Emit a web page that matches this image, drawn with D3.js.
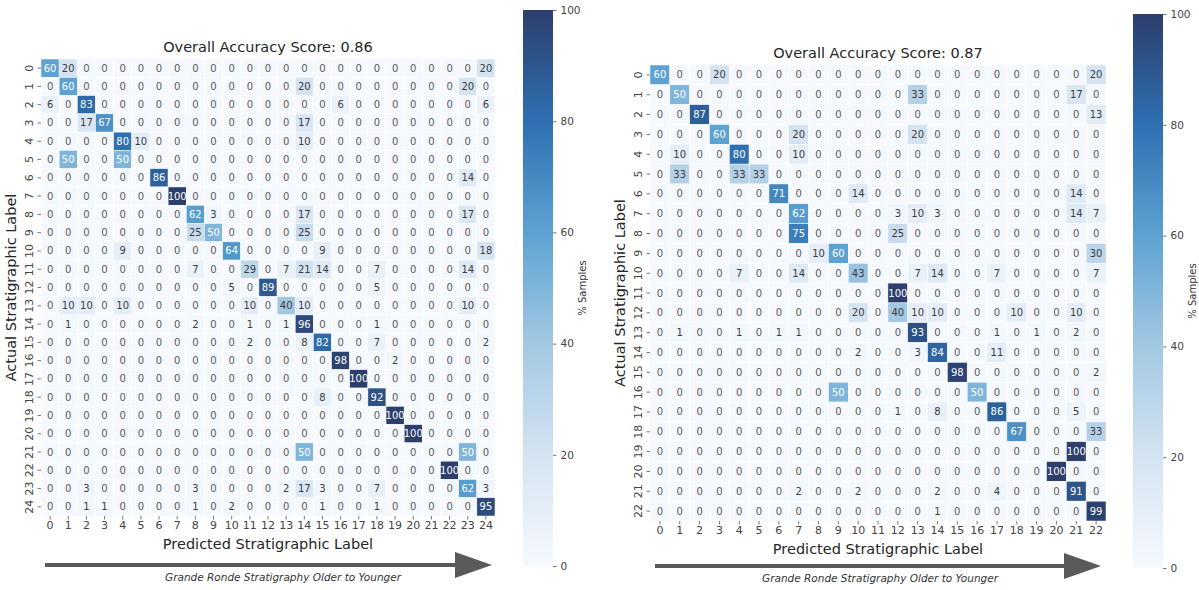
<!DOCTYPE html>
<html>
<head>
<meta charset="utf-8">
<script src="https://cdn.jsdelivr.net/npm/d3@7"></script>
<style>
  html, body { margin: 0; padding: 0; background: #ffffff; }
  svg { display: block; font-family: "DejaVu Sans", sans-serif; }
</style>
</head>
<body>
<svg id="chart" width="1199" height="590"></svg>
<script>
// Class labels (stratigraphic units) for each model
const leftClasses = [0,1,2,3,4,5,6,7,8,9,10,11,12,13,14,15,16,17,18,19,20,21,22,23,24];
const rightClasses = [0,1,2,3,4,5,6,7,8,9,10,11,12,13,14,15,16,17,18,19,20,21,22];

// Row = actual label, column = predicted label, values in % of samples
const leftMatrix = [
  [60,20,0,0,0,0,0,0,0,0,0,0,0,0,0,0,0,0,0,0,0,0,0,0,20],
  [0,60,0,0,0,0,0,0,0,0,0,0,0,0,20,0,0,0,0,0,0,0,0,20,0],
  [6,0,83,0,0,0,0,0,0,0,0,0,0,0,0,0,6,0,0,0,0,0,0,0,6],
  [0,0,17,67,0,0,0,0,0,0,0,0,0,0,17,0,0,0,0,0,0,0,0,0,0],
  [0,0,0,0,80,10,0,0,0,0,0,0,0,0,10,0,0,0,0,0,0,0,0,0,0],
  [0,50,0,0,50,0,0,0,0,0,0,0,0,0,0,0,0,0,0,0,0,0,0,0,0],
  [0,0,0,0,0,0,86,0,0,0,0,0,0,0,0,0,0,0,0,0,0,0,0,14,0],
  [0,0,0,0,0,0,0,100,0,0,0,0,0,0,0,0,0,0,0,0,0,0,0,0,0],
  [0,0,0,0,0,0,0,0,62,3,0,0,0,0,17,0,0,0,0,0,0,0,0,17,0],
  [0,0,0,0,0,0,0,0,25,50,0,0,0,0,25,0,0,0,0,0,0,0,0,0,0],
  [0,0,0,0,9,0,0,0,0,0,64,0,0,0,0,9,0,0,0,0,0,0,0,0,18],
  [0,0,0,0,0,0,0,0,7,0,0,29,0,7,21,14,0,0,7,0,0,0,0,14,0],
  [0,0,0,0,0,0,0,0,0,0,5,0,89,0,0,0,0,0,5,0,0,0,0,0,0],
  [0,10,10,0,10,0,0,0,0,0,0,10,0,40,10,0,0,0,0,0,0,0,0,10,0],
  [0,1,0,0,0,0,0,0,2,0,0,1,0,1,96,0,0,0,1,0,0,0,0,0,0],
  [0,0,0,0,0,0,0,0,0,0,0,2,0,0,8,82,0,0,7,0,0,0,0,0,2],
  [0,0,0,0,0,0,0,0,0,0,0,0,0,0,0,0,98,0,0,2,0,0,0,0,0],
  [0,0,0,0,0,0,0,0,0,0,0,0,0,0,0,0,0,100,0,0,0,0,0,0,0],
  [0,0,0,0,0,0,0,0,0,0,0,0,0,0,0,8,0,0,92,0,0,0,0,0,0],
  [0,0,0,0,0,0,0,0,0,0,0,0,0,0,0,0,0,0,0,100,0,0,0,0,0],
  [0,0,0,0,0,0,0,0,0,0,0,0,0,0,0,0,0,0,0,0,100,0,0,0,0],
  [0,0,0,0,0,0,0,0,0,0,0,0,0,0,50,0,0,0,0,0,0,0,0,50,0],
  [0,0,0,0,0,0,0,0,0,0,0,0,0,0,0,0,0,0,0,0,0,0,100,0,0],
  [0,0,3,0,0,0,0,0,3,0,0,0,0,2,17,3,0,0,7,0,0,0,0,62,3],
  [0,0,1,1,0,0,0,0,1,0,2,0,0,0,0,1,0,0,1,0,0,0,0,0,95]
];

const rightMatrix = [
  [60,0,0,20,0,0,0,0,0,0,0,0,0,0,0,0,0,0,0,0,0,0,20],
  [0,50,0,0,0,0,0,0,0,0,0,0,0,33,0,0,0,0,0,0,0,17,0],
  [0,0,87,0,0,0,0,0,0,0,0,0,0,0,0,0,0,0,0,0,0,0,13],
  [0,0,0,60,0,0,0,20,0,0,0,0,0,20,0,0,0,0,0,0,0,0,0],
  [0,10,0,0,80,0,0,10,0,0,0,0,0,0,0,0,0,0,0,0,0,0,0],
  [0,33,0,0,33,33,0,0,0,0,0,0,0,0,0,0,0,0,0,0,0,0,0],
  [0,0,0,0,0,0,71,0,0,0,14,0,0,0,0,0,0,0,0,0,0,14,0],
  [0,0,0,0,0,0,0,62,0,0,0,0,3,10,3,0,0,0,0,0,0,14,7],
  [0,0,0,0,0,0,0,75,0,0,0,0,25,0,0,0,0,0,0,0,0,0,0],
  [0,0,0,0,0,0,0,0,10,60,0,0,0,0,0,0,0,0,0,0,0,0,30],
  [0,0,0,0,7,0,0,14,0,0,43,0,0,7,14,0,0,7,0,0,0,0,7],
  [0,0,0,0,0,0,0,0,0,0,0,0,100,0,0,0,0,0,0,0,0,0,0],
  [0,0,0,0,0,0,0,0,0,0,20,0,40,10,10,0,0,0,10,0,0,10,0],
  [0,1,0,0,1,0,1,1,0,0,0,0,0,93,0,0,0,1,0,1,0,2,0],
  [0,0,0,0,0,0,0,0,0,0,2,0,0,3,84,0,0,11,0,0,0,0,0],
  [0,0,0,0,0,0,0,0,0,0,0,0,0,0,0,98,0,0,0,0,0,0,2],
  [0,0,0,0,0,0,0,0,0,50,0,0,0,0,0,0,50,0,0,0,0,0,0],
  [0,0,0,0,0,0,0,0,0,0,0,0,1,0,8,0,0,86,0,0,0,5,0],
  [0,0,0,0,0,0,0,0,0,0,0,0,0,0,0,0,0,0,67,0,0,0,33],
  [0,0,0,0,0,0,0,0,0,0,0,0,0,0,0,0,0,0,0,0,0,100,0],
  [0,0,0,0,0,0,0,0,0,0,0,0,0,0,0,0,0,0,0,0,100,0,0],
  [0,0,0,0,0,0,0,2,0,0,2,0,0,0,2,0,0,4,0,0,0,91,0],
  [0,0,0,0,0,0,0,0,0,0,0,0,0,0,1,0,0,0,0,0,0,0,99]
];

const accuracyScores = [0.86, 0.87];
const colorbarTicks = [0, 20, 40, 60, 80, 100];

// Sequential blue colour map, 0 -> 100 %
const color = d3.scaleLinear()
  .domain([0, 20, 40, 60, 80, 100])
  .range(["#f5f9fd", "#d4e3f2", "#a2c8e2", "#5ca2d2", "#2e70b2", "#2c3e6c"])
  .interpolate(d3.interpolateRgb)
  .clamp(true);

const svg = d3.select("#chart");
const defs = svg.append("defs");

// One gradient shared by both colour bars (bottom = 0, top = 100)
const grad = defs.append("linearGradient")
  .attr("id", "cbarGrad")
  .attr("x1", 0).attr("y1", 1).attr("x2", 0).attr("y2", 0);
d3.range(0, 101, 5).forEach(v => {
  grad.append("stop").attr("offset", v / 100).attr("stop-color", color(v));
});

function drawPanel(opt) {
  const g = svg.append("g");
  const x = d3.scaleBand().domain(opt.classes).range([opt.x0, opt.x1]);
  const y = d3.scaleBand().domain(opt.classes).range([opt.y0, opt.y1]);

  const cells = [];
  opt.matrix.forEach((row, i) => row.forEach((v, j) => cells.push({ r: opt.classes[i], c: opt.classes[j], v })));

  // Heatmap cells
  g.append("g").selectAll("rect").data(cells).join("rect")
    .attr("x", d => x(d.c))
    .attr("y", d => y(d.r))
    .attr("width", x.bandwidth())
    .attr("height", y.bandwidth())
    .attr("fill", d => color(d.v))
    .attr("stroke", "#ffffff")
    .attr("stroke-width", 0.5);

  // Cell annotations
  g.append("g").selectAll("text").data(cells).join("text")
    .attr("x", d => x(d.c) + x.bandwidth() / 2)
    .attr("y", d => y(d.r) + y.bandwidth() / 2)
    .attr("text-anchor", "middle")
    .attr("dominant-baseline", "central")
    .attr("font-size", opt.cellFont)
    .attr("fill", d => d.v >= 45 ? "#ffffff" : (d.v === 0 ? "#5a5a5a" : "#3c3c3c"))
    .text(d => d.v);

  // Axes
  const xAxis = g.append("g")
    .attr("transform", `translate(0,${opt.y1})`)
    .call(d3.axisBottom(x).tickSize(3.5).tickPadding(2));
  const yAxis = g.append("g")
    .attr("transform", `translate(${opt.x0},0)`)
    .call(d3.axisLeft(y).tickSize(3.5).tickPadding(2));
  [xAxis, yAxis].forEach(a => {
    a.select(".domain").remove();
    a.selectAll(".tick line").attr("stroke", "#555").attr("stroke-width", 0.8);
    a.selectAll(".tick text").attr("fill", "#444").attr("font-size", 11)
      .attr("font-family", "DejaVu Sans, sans-serif");
  });
  yAxis.selectAll(".tick text")
    .attr("transform", "rotate(-90)")
    .attr("x", 0).attr("y", -8)
    .attr("dy", "0")
    .attr("text-anchor", "middle");

  const cx = (opt.x0 + opt.x1) / 2;
  const cy = (opt.y0 + opt.y1) / 2;

  // Title
  g.append("text")
    .attr("x", cx).attr("y", opt.y0 - 7)
    .attr("text-anchor", "middle")
    .attr("font-size", 14.5).attr("fill", "#262626")
    .text(`Overall Accuracy Score: ${opt.score.toFixed(2)}`);

  // Axis titles
  g.append("text")
    .attr("x", cx).attr("y", opt.y1 + 33)
    .attr("text-anchor", "middle")
    .attr("font-size", 14.5).attr("fill", "#262626")
    .text("Predicted Stratigraphic Label");
  g.append("text")
    .attr("transform", `translate(${opt.x0 - 25},${cy}) rotate(-90)`)
    .attr("text-anchor", "middle")
    .attr("font-size", 14.5).attr("fill", "#262626")
    .text("Actual Stratigraphic Label");

  // Stratigraphic order arrow
  const ay = opt.arrowY;
  g.append("line")
    .attr("x1", opt.arrowX0).attr("x2", opt.arrowX1 - 30)
    .attr("y1", ay).attr("y2", ay)
    .attr("stroke", "#5a5a5a").attr("stroke-width", 4);
  g.append("path")
    .attr("d", `M${opt.arrowX1},${ay} L${opt.arrowX1 - 37},${ay - 13} L${opt.arrowX1 - 37},${ay + 13} Z`)
    .attr("fill", "#5a5a5a");
  g.append("text")
    .attr("x", opt.arrowTextX).attr("y", ay + 16)
    .attr("text-anchor", "middle")
    .attr("font-size", 10.5).attr("font-style", "italic").attr("fill", "#333")
    .text("Grande Ronde Stratigraphy Older to Younger");

  // Colour bar
  const cb = svg.append("g");
  const cs = d3.scaleLinear().domain([0, 100]).range([opt.cbY1, opt.cbY0]);
  cb.append("rect")
    .attr("x", opt.cbX).attr("y", opt.cbY0)
    .attr("width", opt.cbW).attr("height", opt.cbY1 - opt.cbY0)
    .attr("fill", "url(#cbarGrad)");
  const cAxis = cb.append("g")
    .attr("transform", `translate(${opt.cbX + opt.cbW},0)`)
    .call(d3.axisRight(cs).tickValues(colorbarTicks).tickSize(3.5).tickPadding(4));
  cAxis.select(".domain").remove();
  cAxis.selectAll(".tick line").attr("stroke", "#555").attr("stroke-width", 0.8);
  cAxis.selectAll(".tick text").attr("fill", "#444").attr("font-size", 10.5)
    .attr("font-family", "DejaVu Sans, sans-serif");
  cb.append("text")
    .attr("transform", `translate(${opt.cbX + opt.cbW + 33},${(opt.cbY0 + opt.cbY1) / 2}) rotate(-90)`)
    .attr("text-anchor", "middle")
    .attr("font-size", 10).attr("fill", "#333")
    .text("% Samples");
}

drawPanel({
  classes: leftClasses, matrix: leftMatrix, score: accuracyScores[0],
  x0: 41, x1: 495, y0: 59, y1: 516, cellFont: 10,
  arrowX0: 45, arrowX1: 492, arrowY: 565, arrowTextX: 283,
  cbX: 523, cbW: 30, cbY0: 10, cbY1: 566
});

drawPanel({
  classes: rightClasses, matrix: rightMatrix, score: accuracyScores[1],
  x0: 650, x1: 1106, y0: 65, y1: 521, cellFont: 10,
  arrowX0: 655, arrowX1: 1101, arrowY: 566, arrowTextX: 880,
  cbX: 1133, cbW: 30, cbY0: 14, cbY1: 568
});
</script>
</body>
</html>
